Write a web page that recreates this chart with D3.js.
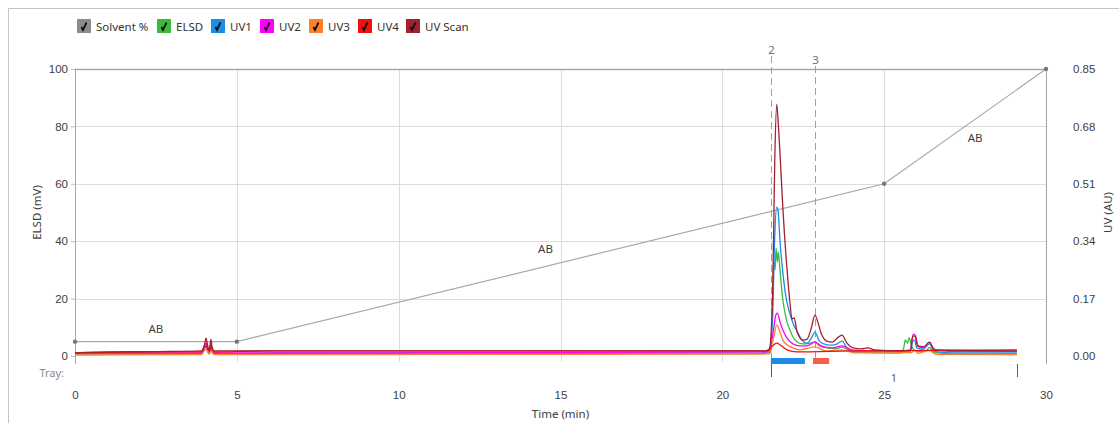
<!DOCTYPE html>
<html>
<head>
<meta charset="utf-8">
<script src="https://cdn.jsdelivr.net/npm/d3@7"></script>
<style>
  html, body { margin: 0; padding: 0; background: #fff; }
  svg { display: block; font-family: "Noto Sans", "Open Sans", sans-serif; }
</style>
</head>
<body>
<svg id="chart" width="1119" height="423"></svg>
<script>
// ---- data ----
const legendNames = ["Solvent %", "ELSD", "UV1", "UV2", "UV3", "UV4", "UV Scan"];
const timeTicks = [0, 5, 10, 15, 20, 25, 30];
const elsdTicks = [0, 20, 40, 60, 80, 100];
const uvTicks = [0, 0.17, 0.34, 0.51, 0.68, 0.85];

// solvent gradient (time in min, % B)
const solventTime = [0, 5, 25, 30];
const solventPct = [5, 5, 60, 100];
const segmentLabels = ["AB", "AB", "AB"];

// fractions collected (min)
const fractionStart = [21.5, 22.8];
const fractionEnd = [22.55, 23.3];
// tray boundaries (min) and tray name
const trayBounds = [21.5, 29.1];
const trayName = "1";
// peak markers
const peakTime = [21.5, 22.86];
const peakLabel = ["2", "3"];

// ELSD trace [min, mV]
const elsd = [[0,0.7],[1.0,0.8],[3.9,0.8],[4.0,3.5],[4.05,4.5],[4.1,2.0],[4.15,1.0],[4.2,4.0],[4.25,1.0],[4.5,0.7],[6.2,0.9],[21.3,1.0],[21.5,1.2],[21.55,19.5],[21.6,32.8],[21.63,30],[21.66,37.6],[21.7,32.8],[21.73,36.2],[21.78,30],[21.87,19.5],[22.0,11.8],[22.09,9.1],[22.18,6.6],[22.31,4.9],[22.49,4.2],[22.7,4.4],[22.86,4.9],[23.0,3.5],[23.23,2.8],[23.5,2.6],[23.7,3.1],[23.85,2.3],[24.0,1.4],[25.5,1.0],[25.6,2.5],[25.65,5.6],[25.72,4.5],[25.77,6.3],[25.85,3.5],[26.0,1.5],[26.3,1.8],[26.4,3.0],[26.5,1.6],[26.7,1.0],[27.5,0.7],[29.1,0.7]];

// UV traces [min, AU]
const uv1 = [[0,0.006],[3.9,0.006],[4.0,0.022],[4.05,0.03],[4.1,0.012],[4.15,0.008],[4.2,0.03],[4.25,0.008],[4.5,0.006],[6.2,0.009],[19.3,0.009],[21.2,0.008],[21.45,0.018],[21.55,0.107],[21.62,0.358],[21.68,0.441],[21.72,0.432],[21.78,0.344],[21.87,0.246],[22.0,0.157],[22.09,0.125],[22.18,0.098],[22.3,0.075],[22.4,0.056],[22.62,0.038],[22.75,0.053],[22.86,0.071],[22.95,0.055],[23.0,0.044],[23.23,0.033],[23.4,0.032],[23.55,0.036],[23.7,0.044],[23.85,0.024],[24.1,0.012],[24.5,0.012],[25.8,0.012],[25.9,0.047],[25.95,0.045],[26.0,0.025],[26.2,0.02],[26.4,0.036],[26.55,0.014],[27.2,0.009],[29.1,0.009]];
const uv2 = [[0,0.009],[3.9,0.009],[4.0,0.03],[4.05,0.038],[4.1,0.015],[4.2,0.035],[4.25,0.012],[4.5,0.009],[21.45,0.012],[21.58,0.077],[21.65,0.121],[21.7,0.127],[21.78,0.101],[21.87,0.077],[22.0,0.053],[22.18,0.036],[22.4,0.030],[22.62,0.030],[22.86,0.041],[23.05,0.030],[23.4,0.024],[23.7,0.030],[24.0,0.018],[24.5,0.015],[25.8,0.015],[25.9,0.065],[25.97,0.06],[26.05,0.03],[26.25,0.028],[26.4,0.041],[26.55,0.018],[27.0,0.014],[29.1,0.014]];
const uv3 = [[0,0.003],[3.9,0.004],[4.05,0.02],[4.15,0.005],[4.2,0.018],[4.3,0.004],[21.45,0.006],[21.6,0.062],[21.68,0.092],[21.78,0.071],[21.87,0.047],[22.0,0.033],[22.18,0.024],[22.4,0.018],[22.86,0.027],[23.2,0.015],[23.7,0.018],[24.1,0.009],[25.85,0.01],[25.92,0.018],[26.05,0.008],[26.4,0.016],[26.6,0.005],[29.1,0.004]];
const uv4 = [[0,0.009],[1.0,0.011],[2.6,0.012],[3.9,0.012],[4.05,0.03],[4.15,0.014],[4.22,0.028],[4.3,0.012],[6.2,0.015],[21.4,0.015],[21.55,0.030],[21.68,0.038],[21.8,0.032],[22.0,0.018],[22.3,0.012],[24.0,0.015],[29.1,0.018]];
const uvScan = [[0,0.009],[1.0,0.012],[2.6,0.013],[3.9,0.015],[4.0,0.033],[4.05,0.053],[4.1,0.030],[4.15,0.015],[4.2,0.050],[4.25,0.015],[6.2,0.015],[21.3,0.015],[21.45,0.021],[21.55,0.166],[21.62,0.58],[21.68,0.746],[21.74,0.669],[21.8,0.566],[21.87,0.438],[22.0,0.255],[22.09,0.157],[22.15,0.11],[22.22,0.113],[22.31,0.071],[22.49,0.047],[22.62,0.050],[22.75,0.083],[22.86,0.121],[22.95,0.101],[23.05,0.068],[23.23,0.044],[23.4,0.041],[23.55,0.053],[23.7,0.062],[23.85,0.038],[24.04,0.024],[24.3,0.021],[24.5,0.024],[24.7,0.018],[25.5,0.015],[25.82,0.018],[25.88,0.059],[25.95,0.059],[26.03,0.03],[26.2,0.025],[26.4,0.041],[26.5,0.025],[26.6,0.018],[29.1,0.015]];

// ---- layout ----
const svg = d3.select("#chart");
const plot = { left: 75, right: 1046, top: 69, bottom: 356 };
const colors = ["#8c8c8c", "#3cba3c", "#1b8de6", "#ff00ff", "#ff7f2a", "#f01010", "#a3202f"];

const x = d3.scaleLinear().domain([0, 30]).range([plot.left, plot.right]);
const yL = d3.scaleLinear().domain([0, 100]).range([plot.bottom, plot.top]);
const yR = d3.scaleLinear().domain([0, 0.85]).range([plot.bottom, plot.top]);

// outer frame
svg.append("path")
  .attr("d", "M8.5,430 L8.5,8.5 L1130,8.5")
  .attr("fill", "none").attr("stroke", "#c4c4c4").attr("stroke-width", 1);

// grid
const grid = svg.append("g").attr("stroke", "#dcdcdc").attr("stroke-width", 1);
elsdTicks.filter(v => v > 0 && v < 100).forEach(v => {
  grid.append("line").attr("x1", plot.left).attr("x2", plot.right)
    .attr("y1", Math.round(yL(v)) + 0.5).attr("y2", Math.round(yL(v)) + 0.5);
});
timeTicks.filter(t => t > 0 && t < 30).forEach(t => {
  grid.append("line").attr("y1", plot.top).attr("y2", 362)
    .attr("x1", Math.round(x(t)) + 0.5).attr("x2", Math.round(x(t)) + 0.5);
});

// frame lines
svg.append("line").attr("x1", plot.left).attr("x2", plot.right)
  .attr("y1", plot.top + 0.5).attr("y2", plot.top + 0.5)
  .attr("stroke", "#a6a6a6").attr("stroke-width", 1.5);
svg.append("line").attr("x1", plot.left + 0.5).attr("x2", plot.left + 0.5)
  .attr("y1", plot.top).attr("y2", 364).attr("stroke", "#a6a6a6");
svg.append("line").attr("x1", plot.right + 0.5).attr("x2", plot.right + 0.5)
  .attr("y1", plot.top).attr("y2", 364).attr("stroke", "#a6a6a6");

// left axis
const leftAxis = svg.append("g").attr("transform", `translate(${plot.left},0)`)
  .call(d3.axisLeft(yL).tickValues(elsdTicks).tickFormat(d3.format("d")).tickSize(4).tickPadding(3));
// right axis
const rightAxis = svg.append("g").attr("transform", `translate(${plot.right},0)`)
  .call(d3.axisRight(yR).tickValues(uvTicks).tickFormat(d3.format(".2f")).tickSize(0).tickPadding(27));
// bottom axis (labels only)
const bottomAxis = svg.append("g").attr("transform", `translate(0,386)`)
  .call(d3.axisBottom(x).tickValues(timeTicks).tickFormat(d3.format("d")).tickSize(0).tickPadding(5));
[leftAxis, rightAxis, bottomAxis].forEach(g => {
  g.select(".domain").remove();
  g.selectAll(".tick line").attr("stroke", "#bdbdbd");
  g.selectAll("text").attr("fill", "#404040").style("font-size", "11.5px");
});

// axis titles
svg.append("text").attr("transform", `translate(41,${(plot.top + plot.bottom) / 2}) rotate(-90)`)
  .attr("text-anchor", "middle").attr("fill", "#404040").style("font-size", "11.5px").text("ELSD (mV)");
svg.append("text").attr("transform", `translate(1112,${(plot.top + plot.bottom) / 2}) rotate(-90)`)
  .attr("text-anchor", "middle").attr("fill", "#404040").style("font-size", "11.5px").text("UV (AU)");
svg.append("text").attr("x", x(15)).attr("y", 418).attr("text-anchor", "middle")
  .attr("fill", "#404040").style("font-size", "11.5px").text("Time (min)");

// solvent gradient
const solvent = solventTime.map((t, i) => [t, solventPct[i]]);
svg.append("path").datum(solvent)
  .attr("d", d3.line().x(d => x(d[0])).y(d => yL(d[1])))
  .attr("fill", "none").attr("stroke", "#a8a8a8").attr("stroke-width", 1.2);
svg.selectAll("circle.solv").data(solvent).join("circle").attr("class", "solv")
  .attr("cx", d => x(d[0])).attr("cy", d => yL(d[1])).attr("r", 2.2).attr("fill", "#777");
const labelShift = [[0, -9], [-15, -10], [10, 16]];
segmentLabels.forEach((lab, i) => {
  const a = solvent[i], b = solvent[i + 1];
  const mx = x((a[0] + b[0]) / 2), my = yL((a[1] + b[1]) / 2);
  svg.append("text").attr("x", mx + labelShift[i][0]).attr("y", my + labelShift[i][1])
    .attr("text-anchor", "middle").attr("fill", "#404040").style("font-size", "11.5px").text(lab);
});

// peak markers
peakTime.forEach((t, i) => {
  const px = Math.round(x(t)) + 0.5;
  const top = i === 0 ? 56 : 66;
  svg.append("line").attr("x1", px).attr("x2", px).attr("y1", top).attr("y2", 362)
    .attr("stroke", "#a0a0a0").attr("stroke-dasharray", "7,4");
  svg.append("text").attr("x", px).attr("y", top - 2).attr("text-anchor", "middle")
    .attr("fill", "#707070").style("font-size", "11.5px").text(peakLabel[i]);
});

// traces
const traces = [
  { data: elsd, y: yL, color: colors[1] },
  { data: uv1, y: yR, color: colors[2] },
  { data: uv2, y: yR, color: colors[3] },
  { data: uv3, y: yR, color: colors[4] },
  { data: uv4, y: yR, color: colors[5] },
  { data: uvScan, y: yR, color: colors[6] }
];
traces.forEach(s => {
  svg.append("path").datum(s.data)
    .attr("d", d3.line().curve(d3.curveMonotoneX).x(d => x(d[0])).y(d => s.y(d[1])))
    .attr("fill", "none").attr("stroke", s.color).attr("stroke-width", 1.3)
    .attr("stroke-linejoin", "round");
});

// fractions
const fracColors = ["#1b8de6", "#f4604a"];
fractionStart.forEach((s, i) => {
  svg.append("rect").attr("x", x(s)).attr("y", 358)
    .attr("width", x(fractionEnd[i]) - x(s)).attr("height", 6).attr("fill", fracColors[i]);
});

// tray row
svg.append("text").attr("x", 64).attr("y", 377).attr("text-anchor", "end")
  .attr("fill", "#8a8a8a").style("font-size", "11px").text("Tray:");
trayBounds.forEach(t => {
  svg.append("line").attr("x1", Math.round(x(t)) + 0.5).attr("x2", Math.round(x(t)) + 0.5)
    .attr("y1", 364).attr("y2", 377).attr("stroke", "#606060");
});
svg.append("text").attr("x", x((trayBounds[0] + trayBounds[1]) / 2)).attr("y", 382)
  .attr("text-anchor", "middle").attr("fill", "#606060").style("font-size", "11px").text(trayName);

// legend
const legendX = [77, 157, 211, 260, 309, 358, 406];
const legend = svg.append("g");
legendNames.forEach((name, i) => {
  const g = legend.append("g").attr("transform", `translate(${legendX[i]},19)`);
  g.append("rect").attr("width", 14).attr("height", 14).attr("fill", colors[i]);
  g.append("path").attr("d", "M4.5,8 L6,11 L9.5,3.5")
    .attr("fill", "none").attr("stroke", "#111").attr("stroke-width", 1.8);
  g.append("text").attr("x", 19).attr("y", 11.5).attr("fill", "#333")
    .style("font-size", "11.5px").text(name);
});
</script>
</body>
</html>
